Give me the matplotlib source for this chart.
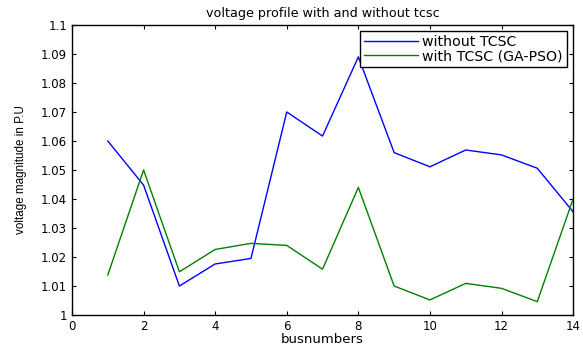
import matplotlib
matplotlib.use("Agg")
import matplotlib.pyplot as plt
import numpy as np

bus = [1, 2, 3, 4, 5, 6, 7, 8, 9, 10, 11, 12, 13, 14]
without_tcsc = [1.060, 1.0448, 1.0100, 1.0176, 1.0195, 1.0700, 1.0617, 1.0890,
                1.0560, 1.0511, 1.0569, 1.0552, 1.0506, 1.0356]
with_tcsc = [1.0138, 1.0500, 1.0149, 1.0226, 1.0247, 1.0240, 1.0158, 1.0440,
             1.0100, 1.0052, 1.0109, 1.0092, 1.0046, 1.0400]

yticks = [1.0, 1.01, 1.02, 1.03, 1.04, 1.05, 1.06, 1.07, 1.08, 1.09, 1.1]
ytick_labels = ['1', '1.01', '1.02', '1.03', '1.04', '1.05', '1.06', '1.07', '1.08', '1.09', '1.1']
xticks = [0, 2, 4, 6, 8, 10, 12, 14]

plt.rcParams['font.family'] = ['DejaVu Sans']

fig = plt.figure(figsize=(5.83, 3.47), dpi=100)
ax = fig.add_axes([0.1235, 0.0922, 0.8595, 0.8358])

ax.plot(bus, without_tcsc, color='#0000ff', lw=1.0, label='without TCSC')
ax.plot(bus, with_tcsc, color='#008000', lw=1.0, label='with TCSC (GA-PSO)')

ax.set_xlim(0, 14)
ax.set_ylim(1.0, 1.1)
ax.set_xticks(xticks)
ax.set_yticks(yticks)
ax.set_yticklabels(ytick_labels)
ax.tick_params(direction='in', top=True, right=True, labelsize=8.5, length=3, width=0.8)
for s in ax.spines.values():
    s.set_linewidth(1.0)

ax.set_title('voltage profile with and without tcsc', fontsize=9.2, pad=6)
ax.set_xlabel('busnumbers', fontsize=9.5, labelpad=0)
ax.set_ylabel('voltage magnitude in P.U', fontsize=8.4, family='Liberation Sans', labelpad=10)

leg = ax.legend(loc='upper right', fontsize=10.2, fancybox=False, framealpha=1,
                edgecolor='black', borderaxespad=0.42, handlelength=3.8,
                handletextpad=0.3, labelspacing=0.0, borderpad=0.3)
leg.get_frame().set_linewidth(1.0)

plt.savefig('out.png', dpi=100)
